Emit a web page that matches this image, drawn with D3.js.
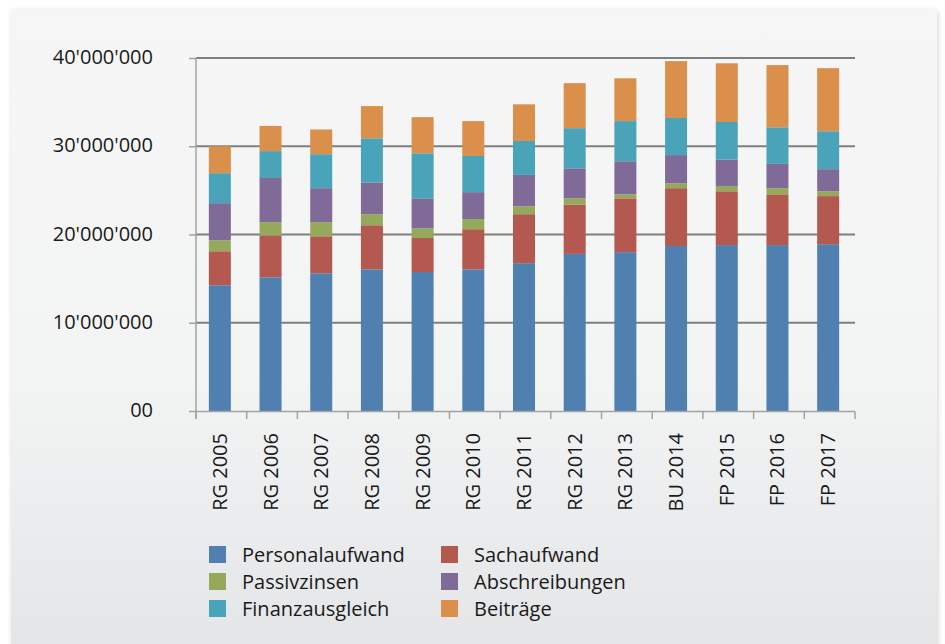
<!DOCTYPE html>
<html>
<head>
<meta charset="utf-8">
<script src="https://cdn.jsdelivr.net/npm/d3@7"></script>
<style>
  html, body { margin: 0; padding: 0; background: #fff; }
  svg { display: block; font-family: "Open Sans", "Noto Sans", sans-serif; }
</style>
</head>
<body>
<div id="chart"></div>
<script>
// Aufwand nach Kategorie (CHF)
var years = ["RG 2005", "RG 2006", "RG 2007", "RG 2008", "RG 2009", "RG 2010", "RG 2011",
             "RG 2012", "RG 2013", "BU 2014", "FP 2015", "FP 2016", "FP 2017"];

var seriesNames = ["Personalaufwand", "Sachaufwand", "Passivzinsen", "Abschreibungen", "Finanzausgleich", "Beiträge"];

var personalaufwand = [14250000, 15150000, 15600000, 16050000, 15750000, 16050000, 16750000, 17800000, 18000000, 18700000, 18800000, 18800000, 18900000];
var sachaufwand     = [3850000, 4750000, 4200000, 5000000, 3850000, 4550000, 5550000, 5600000, 6100000, 6550000, 6100000, 5750000, 5450000];
var passivzinsen    = [1250000, 1500000, 1600000, 1250000, 1100000, 1150000, 900000, 700000, 450000, 550000, 600000, 700000, 550000];
var abschreibungen  = [4200000, 5000000, 3850000, 3600000, 3400000, 3050000, 3550000, 3400000, 3750000, 3200000, 3000000, 2750000, 2500000];
var finanzausgleich = [3400000, 3050000, 3850000, 5000000, 5100000, 4100000, 3850000, 4550000, 4550000, 4200000, 4250000, 4150000, 4300000];
var beitraege       = [3050000, 2850000, 2800000, 3650000, 4100000, 3950000, 4150000, 5100000, 4850000, 6450000, 6650000, 7050000, 7150000];

var yTicks = [0, 10000000, 20000000, 30000000, 40000000];
var yTickLabels = ["00", "10'000'000", "20'000'000", "30'000'000", "40'000'000"];

var colors = ["#4f80b0", "#b35950", "#94aa5a", "#7f6a98", "#4aa4b9", "#da8f4b"];

var width = 945, height = 644;

// table for d3.stack
var seriesData = [personalaufwand, sachaufwand, passivzinsen, abschreibungen, finanzausgleich, beitraege];
var table = years.map(function(y, i) {
    var row = {year: y};
    seriesNames.forEach(function(s, j) { row[s] = seriesData[j][i]; });
    return row;
});

var svg = d3.select("#chart").append("svg")
    .attr("width", width)
    .attr("height", height);

var defs = svg.append("defs");
var grad = defs.append("linearGradient")
    .attr("id", "panelGrad")
    .attr("x1", 0).attr("y1", 0).attr("x2", 0).attr("y2", 1);
grad.append("stop").attr("offset", "0%").attr("stop-color", "#f6f6f6");
grad.append("stop").attr("offset", "55%").attr("stop-color", "#f3f4f4");
grad.append("stop").attr("offset", "100%").attr("stop-color", "#e3e4e6");

var shadow = defs.append("filter").attr("id", "shadow")
    .attr("x", "-5%").attr("y", "-5%").attr("width", "110%").attr("height", "110%");
shadow.append("feDropShadow")
    .attr("dx", 1).attr("dy", 1).attr("stdDeviation", 2.5)
    .attr("flood-color", "#000").attr("flood-opacity", 0.18);

// background panel
svg.append("rect")
    .attr("x", 11).attr("y", 10)
    .attr("width", 926).attr("height", 660)
    .attr("rx", 4)
    .attr("fill", "url(#panelGrad)")
    .attr("filter", "url(#shadow)");

var x = d3.scaleBand()
    .domain(years)
    .range([196, 855])
    .paddingInner(0.566)
    .paddingOuter(0.283);

var y = d3.scaleLinear()
    .domain([0, 40000000])
    .range([411, 58]);

// gridlines
svg.append("g")
  .selectAll("line")
  .data(yTicks.slice(1))
  .enter().append("line")
    .attr("x1", 196).attr("x2", 855)
    .attr("y1", function(d) { return y(d); })
    .attr("y2", function(d) { return y(d); })
    .attr("stroke", "#7f7f7f")
    .attr("stroke-width", 2.2);

// y axis
var yAxis = d3.axisLeft(y)
    .tickValues(yTicks)
    .tickSize(7)
    .tickPadding(36)
    .tickFormat(function(d, i) { return yTickLabels[i]; });

var gy = svg.append("g")
    .attr("transform", "translate(196,0)")
    .call(yAxis);
gy.select(".domain").attr("stroke", "#a3a3a3").attr("stroke-width", 1.5)
    .attr("d", "M0," + (y(40000000)) + "V" + (y(0) + 8));
gy.selectAll(".tick line").attr("stroke", "#a3a3a3").attr("stroke-width", 1.5);
gy.selectAll(".tick text")
    .attr("fill", "#1a1a1a")
    .attr("font-size", "20px")
    .attr("dy", "0.28em")
    .style("font-family", "'Open Sans', sans-serif");

// bars
var stack = d3.stack().keys(seriesNames);
var layers = stack(table);

var barG = svg.append("g").attr("transform", "translate(-1.5,0)");
barG.selectAll("g")
    .data(layers)
  .enter().append("g")
    .attr("fill", function(d, i) { return colors[i]; })
  .selectAll("rect")
    .data(function(d) { return d; })
  .enter().append("rect")
    .attr("x", function(d) { return x(d.data.year); })
    .attr("width", x.bandwidth())
    .attr("y", function(d) { return y(d[1]); })
    .attr("height", function(d) { return y(d[0]) - y(d[1]); });

// x axis line and ticks at band edges
var xg = svg.append("g");
xg.append("line")
    .attr("x1", 196).attr("x2", 855)
    .attr("y1", 411.5).attr("y2", 411.5)
    .attr("stroke", "#a3a3a3").attr("stroke-width", 1.5);
xg.selectAll(".xtick")
    .data(years.concat(["end"]))
  .enter().append("line")
    .attr("class", "xtick")
    .attr("x1", function(d, i) { return 196 + i * x.step(); })
    .attr("x2", function(d, i) { return 196 + i * x.step(); })
    .attr("y1", 411.5).attr("y2", 419)
    .attr("stroke", "#a3a3a3").attr("stroke-width", 1.5);

// rotated category labels
xg.selectAll(".xlabel")
    .data(years)
  .enter().append("text")
    .attr("class", "xlabel")
    .attr("transform", function(d) {
        return "translate(" + (x(d) + x.bandwidth() / 2 - 1.5) + ",433) rotate(-90)";
    })
    .attr("text-anchor", "end")
    .attr("dy", "0.35em")
    .attr("font-size", "20px")
    .attr("fill", "#1a1a1a")
    .text(function(d) { return d; });

// legend
var legend = svg.append("g");
var item = legend.selectAll("g")
    .data(seriesNames)
  .enter().append("g")
    .attr("transform", function(d, i) {
        return "translate(" + (i % 2 === 0 ? 209 : 441) + "," + (546 + Math.floor(i / 2) * 27) + ")";
    });
item.append("rect")
    .attr("width", 17).attr("height", 17)
    .attr("fill", function(d, i) { return colors[i]; });
item.append("text")
    .attr("x", 33)
    .attr("y", 8.5)
    .attr("dy", "0.35em")
    .attr("font-size", "20px")
    .attr("fill", "#1a1a1a")
    .text(function(d) { return d; });
</script>
</body>
</html>
